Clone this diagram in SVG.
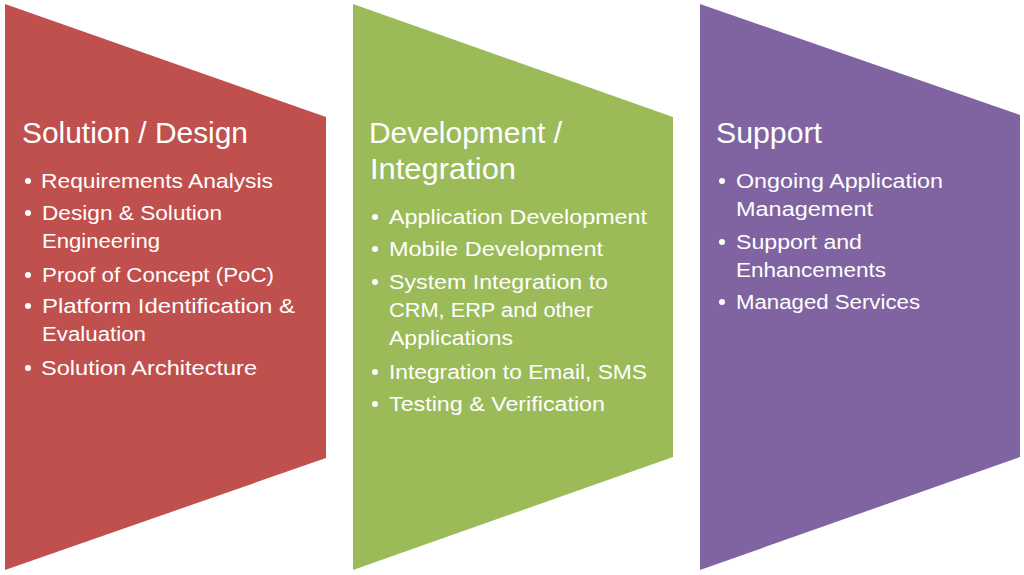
<svg xmlns="http://www.w3.org/2000/svg" width="1024" height="575" viewBox="0 0 1024 575">
<style>
text{font-family:"Liberation Sans","Open Sans",Arial,sans-serif;fill:#ffffff}
.t{font-size:29px}
.b{font-size:19.5px}
.d{fill:#ffffff}
</style>
<rect width="1024" height="575" fill="#ffffff"/>
<g id="node-solution">
<polygon points="5,4 326,117 326,458 5,570" fill="#C0504D"/>
<text class="t" x="22" y="143" textLength="226" lengthAdjust="spacingAndGlyphs">Solution / Design</text>
<circle class="d" cx="28" cy="181" r="3"/>
<text class="b" x="41" y="188" textLength="232" lengthAdjust="spacingAndGlyphs">Requirements Analysis</text>
<circle class="d" cx="28" cy="213" r="3"/>
<text class="b" x="42" y="220" textLength="180" lengthAdjust="spacingAndGlyphs">Design &amp; Solution</text>
<text class="b" x="42" y="248" textLength="118" lengthAdjust="spacingAndGlyphs">Engineering</text>
<circle class="d" cx="28" cy="275" r="3"/>
<text class="b" x="42" y="282" textLength="232" lengthAdjust="spacingAndGlyphs">Proof of Concept (PoC)</text>
<circle class="d" cx="28" cy="306" r="3"/>
<text class="b" x="42" y="313" textLength="253" lengthAdjust="spacingAndGlyphs">Platform Identification &amp;</text>
<text class="b" x="42" y="341" textLength="104" lengthAdjust="spacingAndGlyphs">Evaluation</text>
<circle class="d" cx="28" cy="368" r="3"/>
<text class="b" x="41" y="375" textLength="216" lengthAdjust="spacingAndGlyphs">Solution Architecture</text>
</g>
<g id="node-development">
<polygon points="353,4 673,117 673,457 353,570" fill="#9BBB59"/>
<text class="t" x="369" y="143" textLength="193" lengthAdjust="spacingAndGlyphs">Development /</text>
<text class="t" x="370" y="179" textLength="146" lengthAdjust="spacingAndGlyphs">Integration</text>
<circle class="d" cx="375" cy="217" r="3"/>
<text class="b" x="389" y="224" textLength="258" lengthAdjust="spacingAndGlyphs">Application Development</text>
<circle class="d" cx="375" cy="249" r="3"/>
<text class="b" x="389" y="256" textLength="214" lengthAdjust="spacingAndGlyphs">Mobile Development</text>
<circle class="d" cx="375" cy="282" r="3"/>
<text class="b" x="389" y="289" textLength="219" lengthAdjust="spacingAndGlyphs">System Integration to</text>
<text class="b" x="389" y="317" textLength="204" lengthAdjust="spacingAndGlyphs">CRM, ERP and other</text>
<text class="b" x="389" y="345" textLength="124" lengthAdjust="spacingAndGlyphs">Applications</text>
<circle class="d" cx="375" cy="372" r="3"/>
<text class="b" x="389" y="379" textLength="258" lengthAdjust="spacingAndGlyphs">Integration to Email, SMS</text>
<circle class="d" cx="375" cy="404" r="3"/>
<text class="b" x="389" y="411" textLength="216" lengthAdjust="spacingAndGlyphs">Testing &amp; Verification</text>
</g>
<g id="node-support">
<polygon points="700,4 1020,115 1020,457 700,570" fill="#8064A2"/>
<text class="t" x="716" y="143" textLength="106" lengthAdjust="spacingAndGlyphs">Support</text>
<circle class="d" cx="722" cy="181" r="3"/>
<text class="b" x="736" y="188" textLength="207" lengthAdjust="spacingAndGlyphs">Ongoing Application</text>
<text class="b" x="736" y="216" textLength="137" lengthAdjust="spacingAndGlyphs">Management</text>
<circle class="d" cx="722" cy="242" r="3"/>
<text class="b" x="736" y="249" textLength="126" lengthAdjust="spacingAndGlyphs">Support and</text>
<text class="b" x="736" y="277" textLength="150" lengthAdjust="spacingAndGlyphs">Enhancements</text>
<circle class="d" cx="722" cy="302" r="3"/>
<text class="b" x="736" y="309" textLength="184" lengthAdjust="spacingAndGlyphs">Managed Services</text>
</g>
<g id="connectors"></g>
</svg>
